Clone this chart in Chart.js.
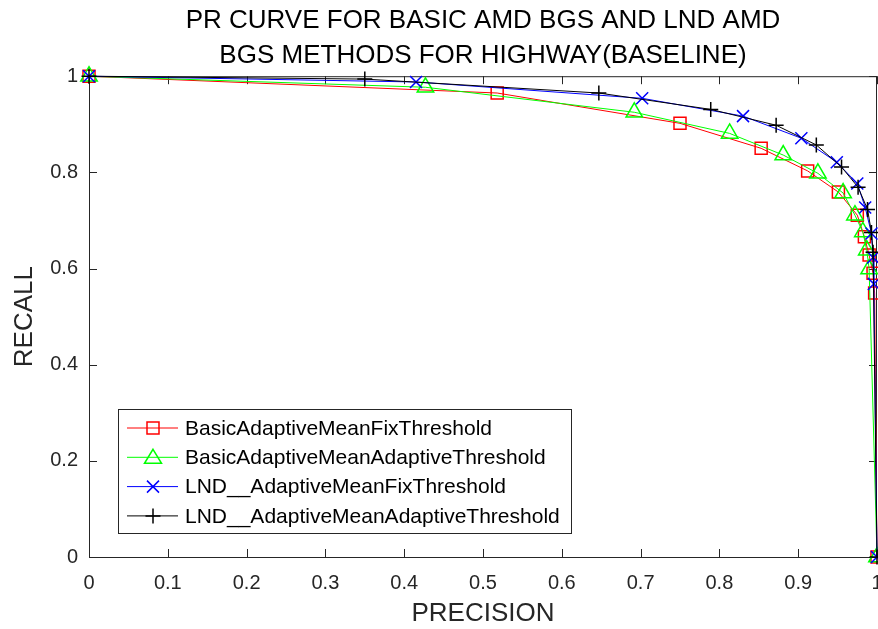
<!DOCTYPE html>
<html>
<head>
<meta charset="utf-8">
<script src="https://cdn.jsdelivr.net/npm/chart.js@4/dist/chart.umd.min.js"></script>
<style>
  html, body { margin: 0; padding: 0; background: #fff; }
  #wrap { width: 878px; height: 629px; position: relative; }
</style>
</head>
<body>
<div id="wrap"><canvas id="prChart"></canvas></div>
<script>
// PR curve values
const seriesNames = [
    'BasicAdaptiveMeanFixThreshold',
    'BasicAdaptiveMeanAdaptiveThreshold',
    'LND__AdaptiveMeanFixThreshold',
    'LND__AdaptiveMeanAdaptiveThreshold'
];

const basicFixPrecision = [0, 0.518, 0.750, 0.853, 0.912, 0.951, 0.975, 0.984, 0.990, 0.995, 0.997, 1];
const basicFixRecall    = [1, 0.965, 0.902, 0.850, 0.803, 0.759, 0.711, 0.666, 0.628, 0.590, 0.549, 0];

const basicAdaptPrecision = [0, 0.427, 0.692, 0.813, 0.881, 0.925, 0.957, 0.972, 0.982, 0.987, 0.990, 1];
const basicAdaptRecall    = [1, 0.977, 0.925, 0.881, 0.836, 0.798, 0.757, 0.711, 0.676, 0.638, 0.599, 0];

const lndFixPrecision = [0, 0.415, 0.702, 0.830, 0.904, 0.949, 0.975, 0.985, 0.993, 0.995, 0.996, 1];
const lndFixRecall    = [1, 0.988, 0.954, 0.917, 0.871, 0.821, 0.777, 0.727, 0.673, 0.623, 0.568, 0];

const lndAdaptPrecision = [0, 0.350, 0.647, 0.789, 0.872, 0.923, 0.955, 0.976, 0.988, 0.993, 0.995, 1];
const lndAdaptRecall    = [1, 0.994, 0.965, 0.931, 0.898, 0.857, 0.811, 0.769, 0.723, 0.675, 0.634, 0];

const titleLines = ['PR CURVE FOR BASIC AMD BGS AND LND AMD', 'BGS METHODS FOR HIGHWAY(BASELINE)'];

const axisColor = '#262626';
const fontFamily = '"Liberation Sans", Arial, sans-serif';
const toPoints = (xs, ys) => xs.map((x, i) => ({ x, y: ys[i] }));

// marker shapes, MATLAB style
function drawMarker(ctx, kind, x, y, color) {
    ctx.save();
    ctx.strokeStyle = color;
    ctx.lineWidth = 1.5;
    ctx.beginPath();
    if (kind === 'rect') {
        ctx.rect(x - 6, y - 6, 12, 12);
    } else if (kind === 'triangle') {
        ctx.moveTo(x, y - 8);
        ctx.lineTo(x + 8.5, y + 6);
        ctx.lineTo(x - 8.5, y + 6);
        ctx.closePath();
    } else if (kind === 'crossRot') {
        ctx.moveTo(x - 6, y - 6); ctx.lineTo(x + 6, y + 6);
        ctx.moveTo(x + 6, y - 6); ctx.lineTo(x - 6, y + 6);
    } else {
        ctx.moveTo(x - 7.5, y); ctx.lineTo(x + 7.5, y);
        ctx.moveTo(x, y - 7.5); ctx.lineTo(x, y + 7.5);
    }
    ctx.stroke();
    ctx.restore();
}

// box around the axes plus inward tick marks
const boxAxes = {
    id: 'boxAxes',
    beforeDatasetsDraw(chart) {
        const { ctx, chartArea: a, scales } = chart;
        const tl = 8;
        ctx.save();
        ctx.strokeStyle = axisColor;
        ctx.lineWidth = 1;
        ctx.strokeRect(a.left + 0.5, a.top + 0.5, a.right - a.left - 1, a.bottom - a.top);
        ctx.beginPath();
        scales.x.ticks.forEach(t => {
            const px = Math.round(scales.x.getPixelForValue(t.value)) + 0.5;
            ctx.moveTo(px, a.bottom); ctx.lineTo(px, a.bottom - tl);
            ctx.moveTo(px, a.top); ctx.lineTo(px, a.top + tl);
        });
        scales.y.ticks.forEach(t => {
            const py = Math.round(scales.y.getPixelForValue(t.value)) + 0.5;
            ctx.moveTo(a.left, py); ctx.lineTo(a.left + tl, py);
            ctx.moveTo(a.right, py); ctx.lineTo(a.right - tl, py);
        });
        ctx.stroke();
        ctx.restore();
    }
};

// legend box inside the plot, lower left
const boxLegend = {
    id: 'boxLegend',
    afterDatasetsDraw(chart) {
        const ctx = chart.ctx;
        const left = 118, top = 409, width = 453, height = 124;
        ctx.save();
        ctx.fillStyle = '#fff';
        ctx.fillRect(left, top, width, height);
        ctx.strokeStyle = axisColor;
        ctx.lineWidth = 1;
        ctx.strokeRect(left + 0.5, top + 0.5, width, height);
        ctx.font = '21px ' + fontFamily;
        ctx.textBaseline = 'middle';
        chart.data.datasets.forEach((ds, i) => {
            const y = 428 + i * 29.3;
            ctx.strokeStyle = ds.borderColor;
            ctx.lineWidth = 1;
            ctx.beginPath();
            ctx.moveTo(127, y); ctx.lineTo(178, y);
            ctx.stroke();
            drawMarker(ctx, ds.pointStyle, 153, y, ds.borderColor);
            ctx.fillStyle = '#000';
            ctx.fillText(ds.label, 185, y + 1);
        });
        ctx.restore();
    }
};

const makeSet = (label, xs, ys, color, style, radius, order) => ({
    label,
    data: toPoints(xs, ys),
    borderColor: color,
    backgroundColor: color,
    borderWidth: 1,
    pointStyle: style,
    pointRadius: radius,
    pointHoverRadius: radius,
    pointBorderWidth: 1.5,
    pointBackgroundColor: 'rgba(0,0,0,0)',
    pointBorderColor: color,
    tension: 0,
    clip: false,
    order
});

new Chart(document.getElementById('prChart'), {
    type: 'line',
    data: {
        datasets: [
            makeSet(seriesNames[0], basicFixPrecision, basicFixRecall, '#ff0000', 'rect', 8.5, 4),
            makeSet(seriesNames[1], basicAdaptPrecision, basicAdaptRecall, '#00ff00', 'triangle', 9.5, 3),
            makeSet(seriesNames[2], lndFixPrecision, lndFixRecall, '#0000ff', 'crossRot', 8.5, 2),
            makeSet(seriesNames[3], lndAdaptPrecision, lndAdaptRecall, '#000000', 'cross', 7.5, 1)
        ]
    },
    options: {
        responsive: true,
        maintainAspectRatio: false,
        animation: false,
        layout: { autoPadding: false, padding: { left: 0, right: 1, top: 0, bottom: 0 } },
        plugins: {
            legend: { display: false },
            tooltip: { enabled: false },
            title: {
                display: true,
                text: titleLines,
                fullSize: false,
                color: '#000',
                font: { family: fontFamily, size: 26, weight: 'normal', lineHeight: 1.35 },
                padding: { top: 3, bottom: 3 }
            }
        },
        scales: {
            x: {
                type: 'linear',
                min: 0,
                max: 1,
                grid: { display: false, drawTicks: false },
                border: { display: false },
                ticks: {
                    stepSize: 0.1,
                    padding: 14,
                    color: axisColor,
                    maxRotation: 0,
                    autoSkip: false,
                    font: { family: fontFamily, size: 20 },
                    callback: v => String(Math.round(v * 10) / 10)
                },
                title: {
                    display: true,
                    text: 'PRECISION',
                    color: axisColor,
                    font: { family: fontFamily, size: 26 },
                    padding: { top: 0, bottom: 0 }
                },
                afterFit(scale) {
                    scale.height = 72;
                    scale.paddingLeft = 0;
                    scale.paddingRight = 0;
                }
            },
            y: {
                type: 'linear',
                min: 0,
                max: 1,
                grid: { display: false, drawTicks: false },
                border: { display: false },
                ticks: {
                    stepSize: 0.2,
                    padding: 11,
                    color: axisColor,
                    autoSkip: false,
                    font: { family: fontFamily, size: 20 },
                    callback: v => String(Math.round(v * 10) / 10)
                },
                title: {
                    display: true,
                    text: 'RECALL',
                    color: axisColor,
                    font: { family: fontFamily, size: 26 },
                    padding: { top: 9, bottom: 0 }
                },
                afterFit(scale) {
                    scale.width = 89;
                    scale.paddingTop = 0;
                    scale.paddingBottom = 0;
                }
            }
        }
    },
    plugins: [boxAxes, boxLegend]
});
</script>
</body>
</html>
